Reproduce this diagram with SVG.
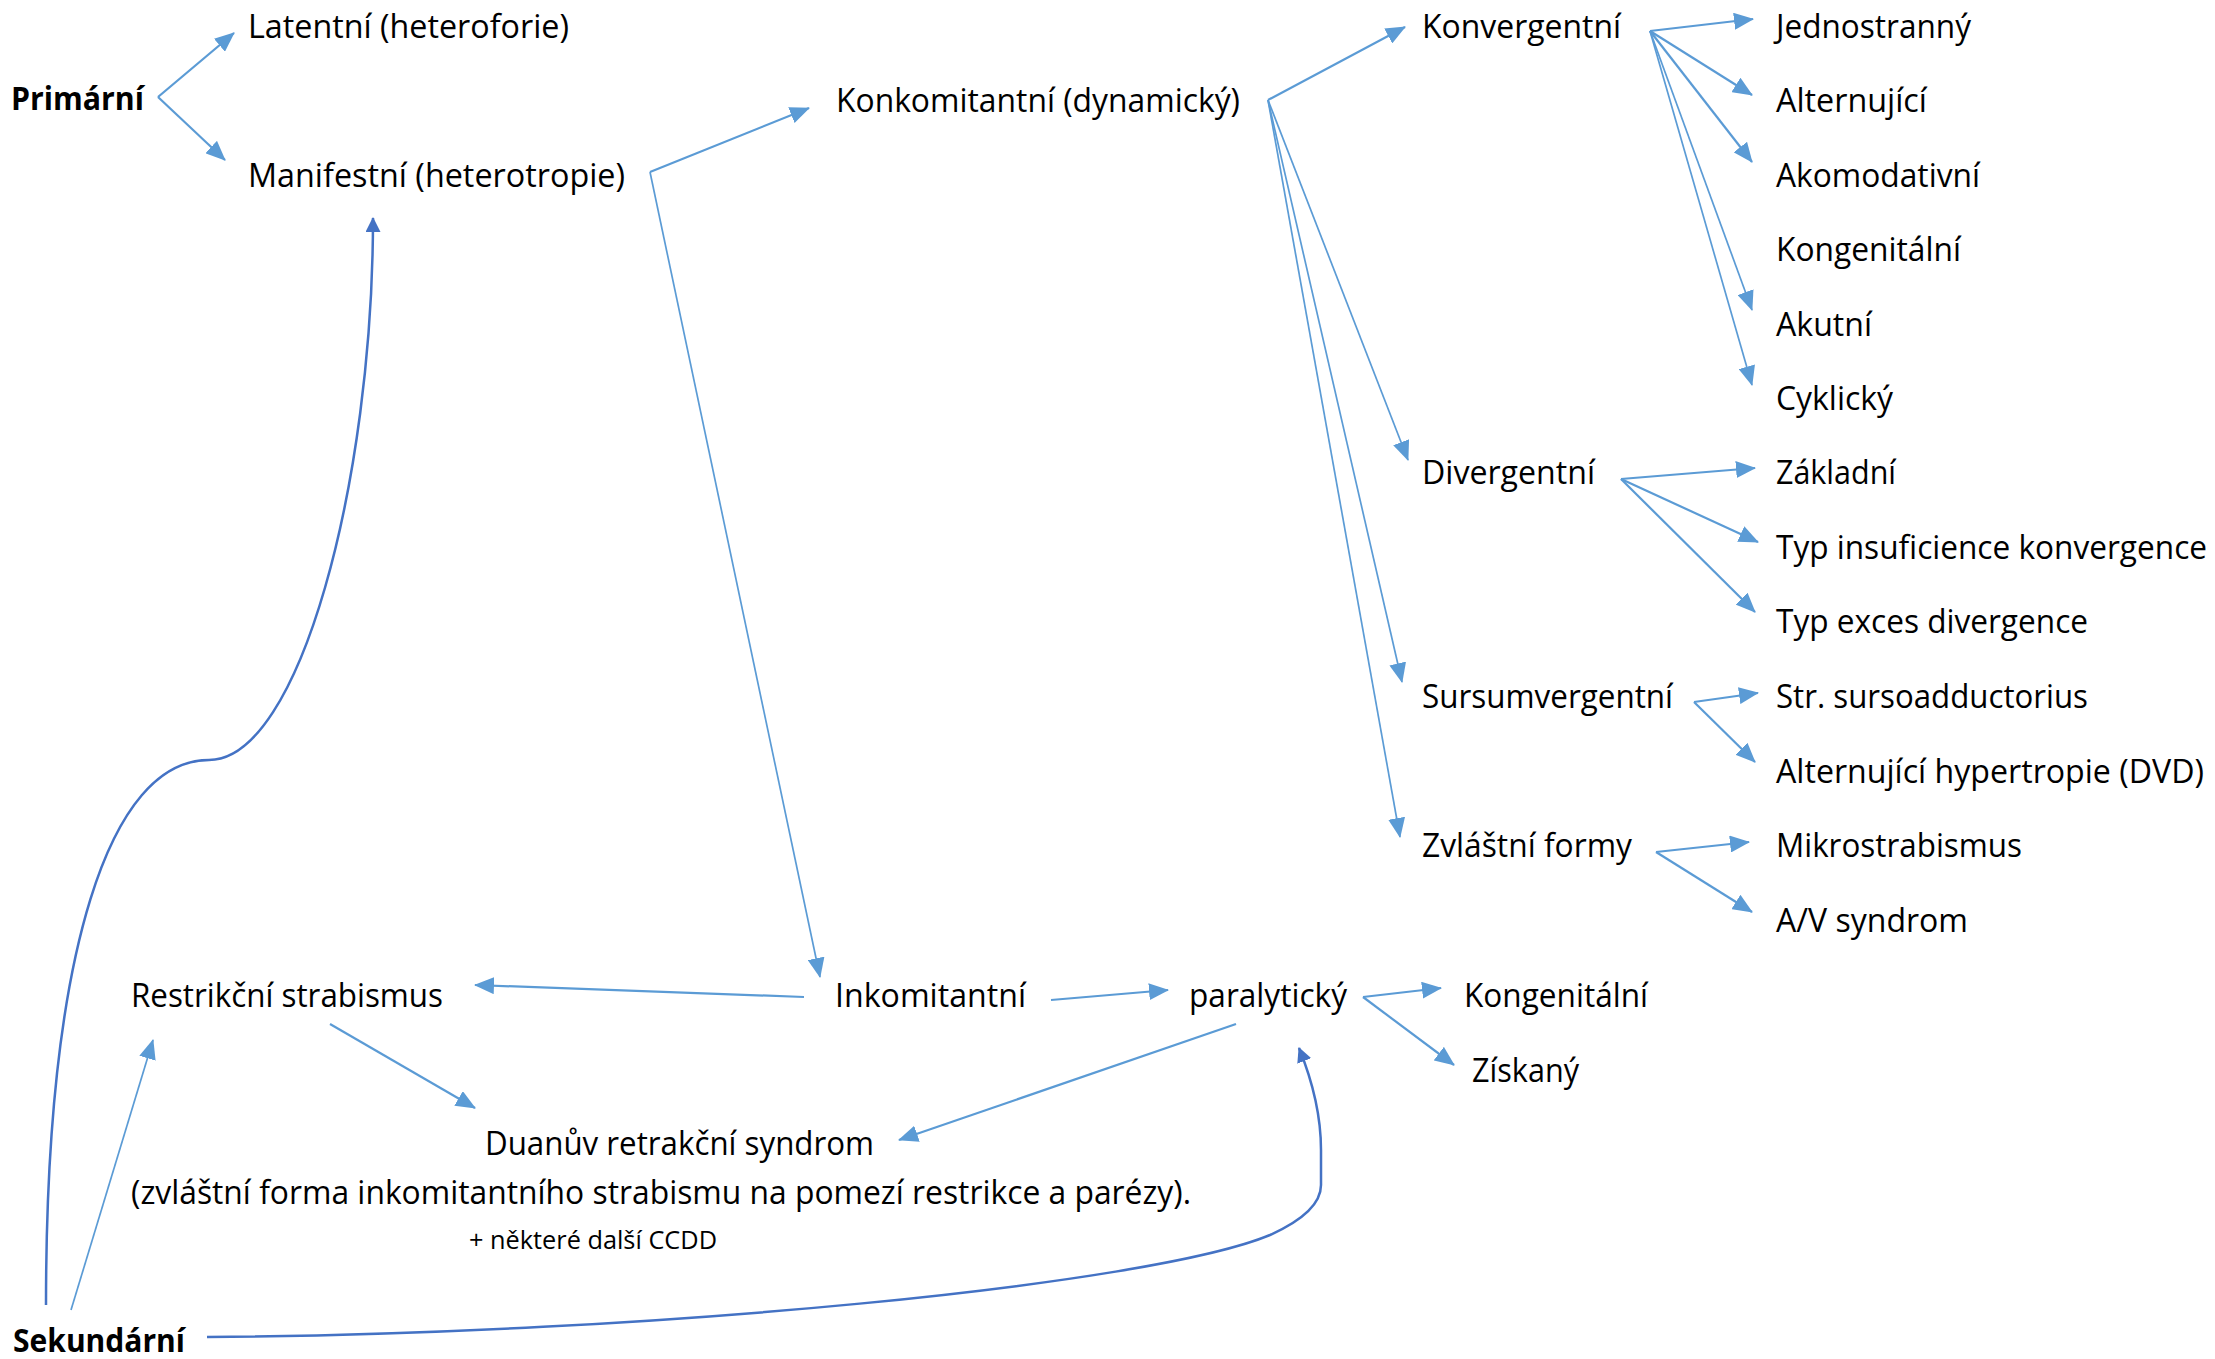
<svg xmlns="http://www.w3.org/2000/svg" width="2215" height="1359" viewBox="0 0 2215 1359">
<style>
text{font-family:"Open Sans","Liberation Sans",sans-serif;font-size:32px;fill:#000}
.b{font-weight:bold}
.s{font-size:25px}
.c{fill:none;stroke:#5B9BD5;stroke-width:2.2;marker-end:url(#a)}
.t{stroke-width:1.7}
.d{fill:none;stroke:#4472C4;stroke-width:2.5;marker-end:url(#d)}
</style>
<defs>
<marker id="a" viewBox="0 0 20 17" refX="19" refY="8.5" markerWidth="20" markerHeight="17" markerUnits="userSpaceOnUse" orient="auto"><path d="M0,0 L20,8.5 L0,17 z" fill="#5B9BD5"/></marker>
<marker id="d" viewBox="0 0 15 15" refX="14" refY="7.5" markerWidth="15" markerHeight="15" markerUnits="userSpaceOnUse" orient="auto"><path d="M0,0 L15,7.5 L0,15 z" fill="#4472C4"/></marker>
</defs>
<rect width="2215" height="1359" fill="#fff"/>
<g id="connectors">
<path class="c" d="M158,97 L234,33"/>
<path class="c" d="M158,97 L225,160"/>
<path class="c" d="M650,172 L809,108"/>
<path class="c t" d="M650,172 L820,977"/>
<path class="c" d="M1268,100 L1405,27"/>
<path class="c t" d="M1268,100 L1408,460"/>
<path class="c t" d="M1268,100 L1402,682"/>
<path class="c t" d="M1268,100 L1400,837"/>
<path class="c" d="M1650,31 L1753,19"/>
<path class="c" d="M1650,31 L1752,95"/>
<path class="c" d="M1650,31 L1752,162"/>
<path class="c t" d="M1650,31 L1752,310"/>
<path class="c t" d="M1650,31 L1752,385"/>
<path class="c" d="M1621,479 L1755,468"/>
<path class="c" d="M1621,479 L1758,542"/>
<path class="c" d="M1621,479 L1755,612"/>
<path class="c" d="M1694,702 L1758,693"/>
<path class="c" d="M1694,702 L1755,762"/>
<path class="c" d="M1656,852 L1749,842"/>
<path class="c" d="M1656,852 L1752,912"/>
<path class="c" d="M804,997 L475,985"/>
<path class="c" d="M1051,1000 L1168,990"/>
<path class="c" d="M1363,997 L1441,988"/>
<path class="c" d="M1363,997 L1454,1065"/>
<path class="c" d="M330,1024 L475,1108"/>
<path class="c" d="M1236,1024 L899,1140"/>
<path class="c t" d="M71,1310 L153,1040"/>
<path class="d" d="M46,1305 C46,950 110,760 209,760 C300,760 373,480 373,218"/>
<path class="d" d="M207,1337 C650,1334 1150,1285 1270,1235 C1310,1217 1321,1200 1321,1185 L1321,1150 C1321,1110 1310,1075 1299,1048"/>
</g>
<g id="primarni"><text class="b" x="11" y="110" textLength="133" lengthAdjust="spacingAndGlyphs">Primární</text></g>
<g id="latentni"><text x="248" y="38" textLength="321" lengthAdjust="spacingAndGlyphs">Latentní (heteroforie)</text></g>
<g id="manifestni"><text x="248" y="187" textLength="377" lengthAdjust="spacingAndGlyphs">Manifestní (heterotropie)</text></g>
<g id="konkomitantni"><text x="836" y="112" textLength="404" lengthAdjust="spacingAndGlyphs">Konkomitantní (dynamický)</text></g>
<g id="konvergentni"><text x="1422" y="38" textLength="199" lengthAdjust="spacingAndGlyphs">Konvergentní</text></g>
<g id="jednostranny"><text x="1776" y="38" textLength="195" lengthAdjust="spacingAndGlyphs">Jednostranný</text></g>
<g id="alternujici"><text x="1776" y="112" textLength="151" lengthAdjust="spacingAndGlyphs">Alternující</text></g>
<g id="akomodativni"><text x="1776" y="187" textLength="204" lengthAdjust="spacingAndGlyphs">Akomodativní</text></g>
<g id="kongenitalni1"><text x="1776" y="261" textLength="185" lengthAdjust="spacingAndGlyphs">Kongenitální</text></g>
<g id="akutni"><text x="1776" y="336" textLength="96" lengthAdjust="spacingAndGlyphs">Akutní</text></g>
<g id="cyklicky"><text x="1776" y="410" textLength="117" lengthAdjust="spacingAndGlyphs">Cyklický</text></g>
<g id="divergentni"><text x="1422" y="484" textLength="173" lengthAdjust="spacingAndGlyphs">Divergentní</text></g>
<g id="zakladni"><text x="1776" y="484" textLength="120" lengthAdjust="spacingAndGlyphs">Základní</text></g>
<g id="typ-insuficience"><text x="1776" y="559" textLength="431" lengthAdjust="spacingAndGlyphs">Typ insuficience konvergence</text></g>
<g id="typ-exces"><text x="1776" y="633" textLength="312" lengthAdjust="spacingAndGlyphs">Typ exces divergence</text></g>
<g id="sursumvergentni"><text x="1422" y="708" textLength="251" lengthAdjust="spacingAndGlyphs">Sursumvergentní</text></g>
<g id="sursoadductorius"><text x="1776" y="708" textLength="312" lengthAdjust="spacingAndGlyphs">Str. sursoadductorius</text></g>
<g id="dvd"><text x="1776" y="783" textLength="428" lengthAdjust="spacingAndGlyphs">Alternující hypertropie (DVD)</text></g>
<g id="zvlastni-formy"><text x="1422" y="857" textLength="210" lengthAdjust="spacingAndGlyphs">Zvláštní formy</text></g>
<g id="mikrostrabismus"><text x="1776" y="857" textLength="246" lengthAdjust="spacingAndGlyphs">Mikrostrabismus</text></g>
<g id="av-syndrom"><text x="1776" y="932" textLength="192" lengthAdjust="spacingAndGlyphs">A/V syndrom</text></g>
<g id="restrikcni"><text x="131" y="1007" textLength="312" lengthAdjust="spacingAndGlyphs">Restrikční strabismus</text></g>
<g id="inkomitantni"><text x="835" y="1007" textLength="191" lengthAdjust="spacingAndGlyphs">Inkomitantní</text></g>
<g id="paralyticky"><text x="1189" y="1007" textLength="158" lengthAdjust="spacingAndGlyphs">paralytický</text></g>
<g id="kongenitalni2"><text x="1464" y="1007" textLength="184" lengthAdjust="spacingAndGlyphs">Kongenitální</text></g>
<g id="ziskany"><text x="1472" y="1082" textLength="107" lengthAdjust="spacingAndGlyphs">Získaný</text></g>
<g id="duanuv"><text x="485" y="1155" textLength="389" lengthAdjust="spacingAndGlyphs">Duanův retrakční syndrom</text><text x="131" y="1204" textLength="1060" lengthAdjust="spacingAndGlyphs">(zvláštní forma inkomitantního strabismu na pomezí restrikce a parézy).</text><text class="s" x="469" y="1249" textLength="248" lengthAdjust="spacingAndGlyphs">+ některé další CCDD</text></g>
<g id="sekundarni"><text class="b" x="13" y="1352" textLength="172" lengthAdjust="spacingAndGlyphs">Sekundární</text></g>
</svg>
